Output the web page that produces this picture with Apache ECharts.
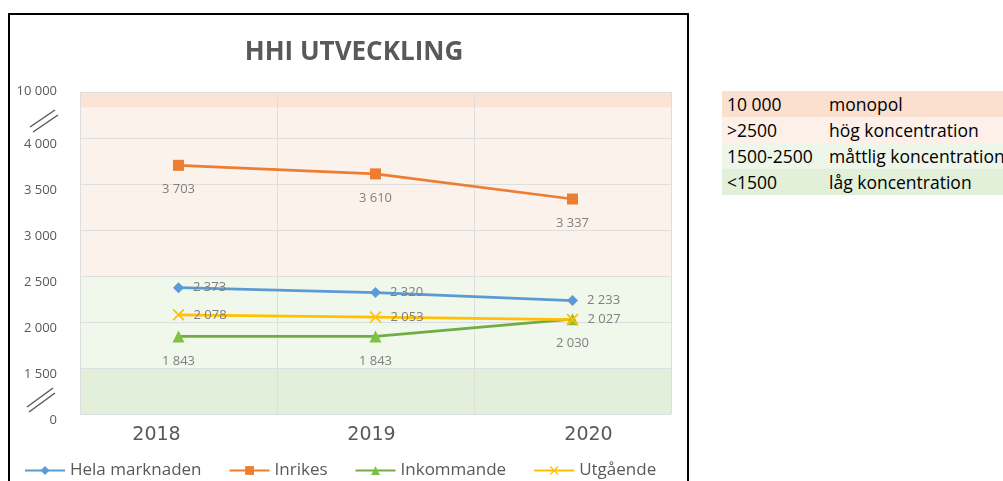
<!DOCTYPE html>
<html lang="sv">
<head>
    <meta charset="UTF-8">
    <title>HHI utveckling</title>
    <script src="https://cdn.jsdelivr.net/npm/echarts@6/dist/echarts.min.js"></script>
    <style>
        body { margin: 0; background: #fff; }
        #main { position: absolute; left: 0; top: 0; width: 1003px; height: 481px; }
        #tabell { position: absolute; left: 722px; top: 91px; width: 300px; border-collapse: collapse;
                  font-family: "Open Sans", sans-serif; font-size: 17.5px; color: #000; }
        #tabell td { height: 26px; padding: 0 0 0 5px; white-space: nowrap; line-height: 26px; }
        #wrap { position: absolute; left: 0; top: 0; width: 1003px; height: 481px; overflow: hidden; }
    </style>
</head>
<body>
<div id="wrap">
    <div id="main"></div>
    <table id="tabell"></table>
</div>
<script type="text/javascript">
    // data
    var years = ['2018', '2019', '2020'];
    var hela = [2373, 2320, 2233];
    var inrikes = [3703, 3610, 3337];
    var inkommande = [1843, 1843, 2030];
    var utgaende = [2078, 2053, 2027];

    // brutet y-axel: 1000 = "0", 4500 = "10 000"
    var tickValues = [1000, 1500, 2000, 2500, 3000, 3500, 4000, 4500];
    var tickLabels = ['0', '1 500', '2 000', '2 500', '3 000', '3 500', '4 000', '10 000'];

    // färgband [från, till, färg]
    var bands = [
        [4330, 4500, '#fbe3d5'],
        [2500, 4330, '#fcf2ec'],
        [1500, 2500, '#f0f7eb'],
        [1000, 1500, '#e2efda']
    ];

    var tabellRader = [
        ['10 000', 'monopol', '#fbe0d0'],
        ['>2500', 'hög koncentration', '#fdf0e9'],
        ['1500-2500', 'måttlig koncentration', '#eef6e9'],
        ['<1500', 'låg koncentration', '#e2efd9']
    ];

    var tbl = document.getElementById('tabell');
    tabellRader.forEach(function (r) {
        var tr = document.createElement('tr');
        tr.style.background = r[2];
        tr.innerHTML = '<td style="width:97px">' + r[0] + '</td><td>' + r[1] + '</td>';
        tbl.appendChild(tr);
    });

    function fmt(v) {
        return String(v).replace(/\B(?=(\d{3})+(?!\d))/g, ' ');
    }

    var crossPath = 'path://M1,0 L5,4 L9,0 L10,1 L6,5 L10,9 L9,10 L5,6 L1,10 L0,9 L4,5 L0,1 Z';
    var font = '"Open Sans", sans-serif';
    var labelStyle = { show: true, color: '#7f7f7f', fontSize: 13, fontFamily: font,
        formatter: function (p) { return fmt(p.value); } };
    var yearStyle = { color: '#595959', fontSize: 19, fontFamily: '"DejaVu Sans", sans-serif' };

    var myChart = echarts.init(document.getElementById('main'));

    var option = {
        animation: false,
        title: {
            text: 'HHI UTVECKLING',
            left: 349, top: 35, textAlign: 'center',
            textStyle: { color: '#595959', fontSize: 26, fontWeight: 'bold', fontFamily: font }
        },
        legend: {
            data: ['Hela marknaden', 'Inrikes', 'Inkommande', 'Utgående'],
            left: 19, top: 457, itemGap: 27, itemWidth: 40, itemHeight: 11,
            textStyle: { color: '#595959', fontSize: 17, fontFamily: font }
        },
        grid: { left: 80, right: 332, top: 92, bottom: 67 },
        xAxis: {
            type: 'category',
            data: years,
            boundaryGap: true,
            z: 3,
            axisLine: { show: false },
            axisTick: { show: false },
            splitLine: { show: true, lineStyle: { color: '#dedede', width: 1 } },
            axisLabel: {
                margin: 12,
                formatter: function (v, i) { return '{y' + i + '|' + v + '}'; },
                rich: {
                    y0: Object.assign({ padding: [0, 44, 0, 0] }, yearStyle),
                    y1: Object.assign({ padding: [0, 8, 0, 0] }, yearStyle),
                    y2: Object.assign({ padding: [0, 0, 0, 32] }, yearStyle)
                }
            }
        },
        yAxis: {
            type: 'value',
            min: 1000, max: 4500, interval: 500,
            z: 3,
            axisLine: { show: false },
            axisTick: { show: false },
            splitLine: { lineStyle: { color: '#dedede', width: 1 } },
            axisLabel: {
                margin: 23,
                formatter: function (v) {
                    var i = tickValues.indexOf(v);
                    if (i < 0) return '';
                    return v === 4500 ? '{t|' + tickLabels[i] + '}' : '{n|' + tickLabels[i] + '}';
                },
                rich: {
                    n: { color: '#595959', fontSize: 13, fontFamily: font, padding: [12, 0, 0, 0] },
                    t: { color: '#595959', fontSize: 13, fontFamily: font, padding: [0, 0, 2, 0] }
                }
            }
        },
        graphic: [
            { type: 'rect', shape: { x: 9, y: 14, width: 679, height: 480 },
              style: { fill: 'none', stroke: '#000', lineWidth: 2 }, z: 100 },
            { type: 'line', shape: { x1: 30, y1: 127, x2: 55, y2: 110 }, style: { stroke: '#595959', lineWidth: 1.5 } },
            { type: 'line', shape: { x1: 33, y1: 132, x2: 58, y2: 115 }, style: { stroke: '#595959', lineWidth: 1.5 } },
            { type: 'line', shape: { x1: 27, y1: 407, x2: 53, y2: 388 }, style: { stroke: '#595959', lineWidth: 1.5 } },
            { type: 'line', shape: { x1: 29, y1: 412, x2: 55, y2: 393 }, style: { stroke: '#595959', lineWidth: 1.5 } }
        ],
        series: [
            {
                name: '_band', type: 'line', data: [], z: 1, silent: true,
                markArea: {
                    silent: true,
                    data: bands.map(function (b) {
                        return [{ yAxis: b[0], itemStyle: { color: b[2] } }, { yAxis: b[1] }];
                    })
                }
            },
            {
                name: 'Hela marknaden', type: 'line', data: hela, z: 5,
                symbol: 'diamond', symbolSize: 11,
                lineStyle: { color: '#5b9bd5', width: 2.75 }, itemStyle: { color: '#5b9bd5' },
                label: Object.assign({}, labelStyle, { position: 'right', distance: 9 })
            },
            {
                name: 'Inrikes', type: 'line', data: inrikes, z: 5,
                symbol: 'rect', symbolSize: 11,
                lineStyle: { color: '#ed7d31', width: 2.75 }, itemStyle: { color: '#ed7d31' },
                label: Object.assign({}, labelStyle, { position: 'bottom', distance: 12 })
            },
            {
                name: 'Inkommande', type: 'line', data: inkommande, z: 5,
                symbol: 'triangle', symbolSize: 12,
                lineStyle: { color: '#70ad47', width: 2.75 }, itemStyle: { color: '#7ec143' },
                label: Object.assign({}, labelStyle, { position: 'bottom', distance: 12 })
            },
            {
                name: 'Utgående', type: 'line', data: utgaende, z: 5,
                symbol: crossPath, symbolSize: 12,
                lineStyle: { color: '#ffc000', width: 2.75 }, itemStyle: { color: '#ffc000' },
                label: Object.assign({}, labelStyle, { position: 'right', distance: 9 })
            }
        ]
    };

    myChart.setOption(option);
</script>
</body>
</html>
